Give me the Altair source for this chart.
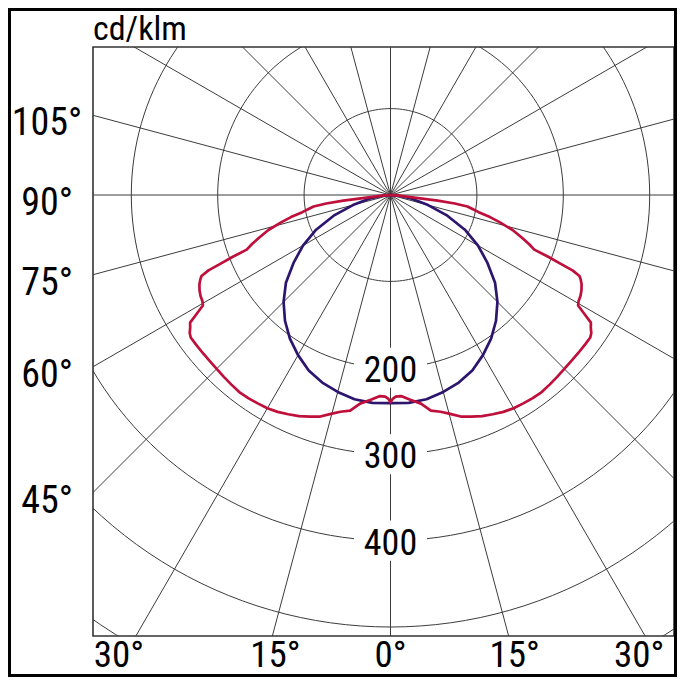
import math
import altair as alt
import pandas as pd

# ---------------- data (cd/klm vs gamma angle from nadir, symmetric) -------------
crimson_angles = [0, 0.6, 1.5, 3, 5.5, 8.3, 10.6, 13, 15, 17.6,
                  20, 22.5, 25, 27.5, 30, 32.5, 35, 37.5, 40, 42.5,
                  45, 47.5, 50, 52.5, 54.5, 55.5, 56.5, 57.5, 58.5, 59.5,
                  60.5, 62, 63.5, 65, 66, 66.8, 67.5, 68, 68.6, 69.2,
                  70.5, 72, 74, 76, 77.5, 79, 80.5, 81.5, 82.5, 83.2,
                  83.6, 85, 87, 90]
crimson_values = [240, 236, 233.5, 233, 238, 244, 254, 257.5, 262, 269,
                  273, 277, 280, 283, 285, 286, 287, 287.5, 286.5, 285.5,
                  284.5, 284, 284, 284, 284, 282, 278, 275, 263, 252,
                  250, 249, 247, 244, 241, 238, 228, 212, 196, 178,
                  170, 160, 147, 130, 118, 104, 95, 90, 75, 55,
                  30, 12, 4, 0]

navy_angles = [0, 5, 10, 15, 20, 25, 30, 35, 40, 45, 50, 55, 60, 65, 70, 75, 80, 85, 90]
navy_values = [241, 241.5, 240, 236, 231, 224, 214, 203, 190, 175, 158, 137, 117, 95, 70, 45, 25, 10, 0]

grid_radii = [100, 200, 300, 400, 500, 600]
ring_labels = [200, 300, 400]
radial_angles = list(range(0, 360, 15))
left_label_angles = [105, 90, 75, 60, 45]
bottom_label_angles = [-30, -15, 0, 15, 30]
unit_text = "cd/klm"

# ---------------- layout ----------------
K = 0.864                      # px per cd/klm
PAD_L, PAD_T, PAD_R, PAD_B = 85, 39, 3, 41
VIEW_W, VIEW_H = 581, 589
CX, CY = 297.5, 148            # pole position inside the view (px)
FONT = "Roboto Condensed, Roboto, sans-serif"

xs = alt.Scale(domain=[-CX / K, (VIEW_W - CX) / K], nice=False, zero=False)
ys = alt.Scale(domain=[-(VIEW_H - CY) / K, CY / K], nice=False, zero=False)


def X(f):
    return alt.X(f, type="quantitative", scale=xs, axis=None)


def Y(f):
    return alt.Y(f, type="quantitative", scale=ys, axis=None)


# curves
rows = []
for name, angs, vals in [("C0-180", navy_angles, navy_values),
                         ("C90-270", crimson_angles, crimson_values)]:
    pts = [(-a, v) for a, v in zip(angs[::-1], vals[::-1])] + \
          [(a, v) for a, v in zip(angs[1:], vals[1:])]
    for i, (a, v) in enumerate(pts):
        t = math.radians(a)
        rows.append({"series": name, "i": i,
                     "x": v * math.sin(t), "y": -v * math.cos(t)})
curves = pd.DataFrame(rows)

# grid circles
crow = []
for r in grid_radii:
    for i, a in enumerate(range(0, 362, 2)):
        t = math.radians(a)
        crow.append({"ring": r, "i": i, "x": r * math.sin(t), "y": -r * math.cos(t)})
circles = pd.DataFrame(crow)

# radial lines
RMAX = 800
radials = pd.DataFrame([{"x": 0.0, "y": 0.0,
                         "x2": RMAX * math.sin(math.radians(a)),
                         "y2": -RMAX * math.cos(math.radians(a))} for a in radial_angles])

ringlab = pd.DataFrame({"x": [0.0] * len(ring_labels),
                        "y": [-v for v in ring_labels],
                        "t": [str(v) for v in ring_labels]})

# left angle labels: at the level where each radial meets the left frame
LEFT_X_PX = -46 - CX           # label centre relative to pole (px)
left = pd.DataFrame({
    "x": [LEFT_X_PX / K] * len(left_label_angles),
    "y": [-((CX / math.tan(math.radians(a))) + 9) / K for a in left_label_angles],
    "t": [f"{a}°" for a in left_label_angles]})

BOTTOM_NUDGE = [-17, 3, 0, 6, -6]
BOTTOM_Y_PX = 461
bottom = pd.DataFrame({
    "x": [((VIEW_H - CY) * math.tan(math.radians(a)) + n) / K
          for a, n in zip(bottom_label_angles, BOTTOM_NUDGE)],
    "y": [-BOTTOM_Y_PX / K] * len(bottom_label_angles),
    "t": [f"{abs(a)}°" for a in bottom_label_angles]})

# unit label: baseline 7 px above the top frame
unit = pd.DataFrame({"x": [-CX / K], "y": [(CY + 7) / K], "t": [unit_text]})

GRID = "#3c3c3c"

circ_layer = alt.Chart(circles).mark_line(clip=True, stroke=GRID, strokeWidth=1).encode(
    x=X("x"), y=Y("y"), detail="ring:N", order="i:Q")
rad_layer = alt.Chart(radials).mark_rule(clip=True, stroke=GRID, strokeWidth=1).encode(
    x=X("x"), y=Y("y"), x2="x2:Q", y2="y2:Q")
box_layer = alt.Chart(ringlab).mark_point(
    shape="M-1,-0.55H1V0.55H-1Z", filled=True, fill="white", opacity=1,
    strokeWidth=0, size=73 * 73).encode(x=X("x"), y=Y("y"))
curve_layer = alt.Chart(curves).mark_line(strokeWidth=2.7, strokeJoin="round").encode(
    x=X("x"), y=Y("y"), detail="series:N", order="i:Q",
    color=alt.Color("series:N", legend=None,
                    scale=alt.Scale(domain=["C0-180", "C90-270"],
                                    range=["#2d156e", "#bf0f3b"])))
ring_text = alt.Chart(ringlab).mark_text(
    font=FONT, fontSize=36, color="black", baseline="middle", align="center", dy=3).encode(
    x=X("x"), y=Y("y"), text="t:N")
left_text = alt.Chart(left).mark_text(
    font=FONT, fontSize=38, color="black", baseline="middle", align="center").encode(
    x=X("x"), y=Y("y"), text="t:N")
bottom_text = alt.Chart(bottom).mark_text(
    font=FONT, fontSize=37, color="black", baseline="middle", align="center").encode(
    x=X("x"), y=Y("y"), text="t:N")
unit_layer = alt.Chart(unit).mark_text(
    font=FONT, fontSize=34, color="black", baseline="alphabetic", align="left").encode(
    x=X("x"), y=Y("y"), text="t:N")
border = alt.Chart(unit).mark_rect(filled=False, stroke="black", strokeWidth=3).encode(
    x=alt.value(-PAD_L + 1.5), x2=alt.value(VIEW_W + PAD_R - 1.5),
    y=alt.value(-PAD_T + 1.5), y2=alt.value(VIEW_H + PAD_B - 1.5))

chart = alt.layer(circ_layer, rad_layer, box_layer, curve_layer, ring_text,
                  left_text, bottom_text, unit_layer, border).properties(
    width=VIEW_W, height=VIEW_H,
    padding={"left": PAD_L, "top": PAD_T, "right": PAD_R, "bottom": PAD_B},
    autosize=alt.AutoSizeParams(type="none"),
    background="white",
).configure_view(stroke="#333333", strokeWidth=1.6)

chart.save("out.html", embed_options={"renderer": "svg", "actions": False})
